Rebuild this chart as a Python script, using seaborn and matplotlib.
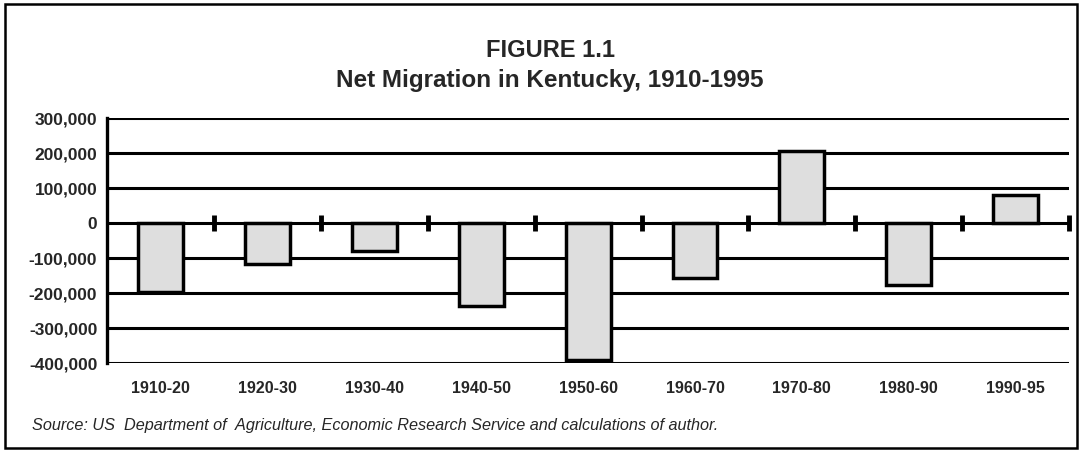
import matplotlib
matplotlib.use("Agg")
import matplotlib.pyplot as plt
import matplotlib.ticker as mticker
from matplotlib.patches import Rectangle
import seaborn as sns

# data
periods = ["1910-20", "1920-30", "1930-40", "1940-50", "1950-60",
           "1960-70", "1970-80", "1980-90", "1990-95"]
net_migration = [-195000, -117000, -80000, -235000, -390000,
                 -155000, 205000, -175000, 80000]
y_ticks = [-400000, -300000, -200000, -100000, 0, 100000, 200000, 300000]

sns.set_style("white")
plt.rcParams["font.family"] = ["Liberation Sans", "DejaVu Sans"]

fig = plt.figure(figsize=(10.81, 4.53), dpi=100)
ax = fig.add_axes([0.099, 0.198, 0.890, 0.541])

sns.barplot(x=periods, y=net_migration, color="#dedede", edgecolor="black",
            linewidth=2.5, width=0.42, saturation=1, ax=ax)

# thick black gridlines like the original
ax.set_ylim(y_ticks[0], y_ticks[-1])
ax.set_yticks(y_ticks)
ax.yaxis.set_major_formatter(mticker.FuncFormatter(lambda v, p: f"{int(v):,}"))
ax.grid(axis="y", color="black", linewidth=2.2)
ax.set_axisbelow(True)
for side in ["top", "right", "bottom"]:
    ax.spines[side].set_visible(False)
ax.spines["left"].set_linewidth(2.4)
ax.spines["left"].set_color("black")

ax.tick_params(axis="y", length=5, width=1.5, color="black", pad=2, labelsize=12.5)
ax.tick_params(axis="x", length=0, pad=13, labelsize=11.5)
for lab in ax.get_yticklabels() + ax.get_xticklabels():
    lab.set_fontweight("bold")
ax.set_xlim(-0.5, len(periods) - 0.5)
ax.set_xlabel("")
ax.set_ylabel("")

# small tick marks on the zero line between categories
bounds = [i + 0.5 for i in range(len(periods))]
ax.plot(bounds, [0] * len(bounds), linestyle="none", marker="|",
        markersize=11, markeredgewidth=3.5, color="black", clip_on=False)

fig.text(0.509, 0.889, "FIGURE 1.1", ha="center", va="center",
         fontsize=17, fontweight="bold")
fig.text(0.509, 0.823, "Net Migration in Kentucky, 1910-1995", ha="center",
         va="center", fontsize=17.5, fontweight="bold")
fig.text(0.030, 0.060,
         "Source: US  Department of  Agriculture, Economic Research Service and calculations of author.",
         ha="left", va="center", fontsize=11.7, style="italic")

fig.patches.append(Rectangle((0.005, 0.011), 0.991, 0.98, transform=fig.transFigure,
                             fill=False, edgecolor="black", linewidth=1.8))

fig.savefig("out.png", dpi=100)
